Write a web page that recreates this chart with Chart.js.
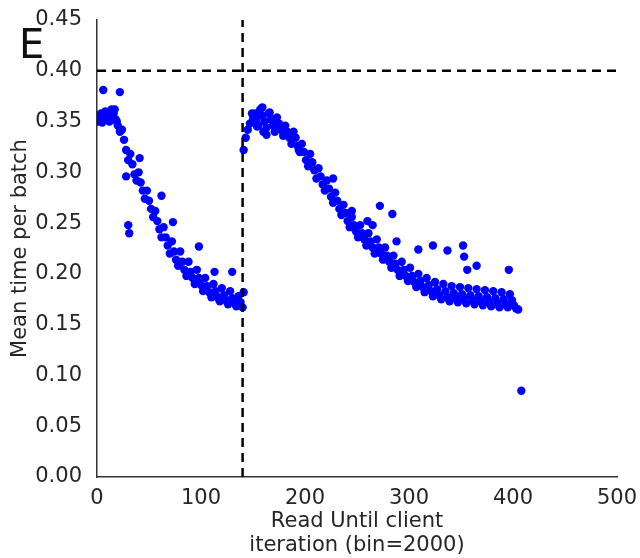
<!DOCTYPE html>
<html>
<head>
<meta charset="utf-8">
<script src="https://cdn.jsdelivr.net/npm/chart.js@4.4.0/dist/chart.umd.min.js"></script>
<style>
  html, body { margin: 0; padding: 0; background: #fff; }
  #wrap { width: 640px; height: 558px; }
</style>
</head>
<body>
<div id="wrap"><canvas id="chart" width="640" height="558"></canvas></div>
<script>
// sampled every 2nd iteration
const iterStep = 2

// first run: iterations 0, 2, ... 140
const firstStart = 0
const firstRun = [
  .356, .352, .358, .354,  .360, .355, .350, .362,
  .358, .352, .346, .340,  .342, .332, .322, .312,
  .318, .308, .298, .292,  .300, .290, .282, .274,
  .282, .272, .264, .256,  .262, .252, .244, .236,
  .246, .236, .228, .220,  .232, .222, .214, .208,
  .222, .212, .204, .198,  .212, .202, .196, .190,
  .204, .196, .189, .183,  .196, .188, .182, .177,
  .190, .183, .177, .173,  .186, .179, .174, .170,
  .183, .176, .171, .168,  .178, .172, .167
]

// second run: iterations 141, 143, ... 405
const secondStart = 141
const secondRun = [
  .322, .334, .342, .348,  .358, .354, .350, .346,
  .362, .356, .350, .344,  .358, .352, .346, .340,
  .354, .348, .342, .336,  .346, .340, .334, .328,
  .340, .334, .326, .320,  .328, .320, .312, .306,
  .318, .310, .302, .294,  .304, .296, .288, .282,
  .292, .284, .276, .270,  .280, .272, .264, .258,
  .268, .260, .252, .246,  .256, .248, .242, .236,
  .248, .240, .234, .228,  .240, .232, .226, .220,
  .234, .226, .220, .214,  .226, .218, .212, .206,
  .218, .210, .204, .198,  .212, .204, .198, .193,
  .206, .198, .192, .187,  .200, .193, .187, .182,
  .196, .189, .183, .178,  .192, .185, .179, .175,
  .190, .183, .177, .173,  .188, .181, .176, .172,
  .187, .180, .175, .171,  .186, .179, .174, .170,
  .185, .178, .173, .169,  .184, .177, .172, .168,
  .183, .176, .171, .167,  .182, .175, .170, .167,
  .180, .174, .169, .166,  .165
]

// odd-iteration and scattered points off the main band
const extraX = [1, 3, 5, 9, 11, 13, 15, 17, 19, 6, 22, 28, 30, 31, 41, 62, 73, 98, 113, 130, 141,
  150, 152, 154, 156, 159, 160, 163, 166, 170, 176, 186, 194, 227, 245, 260, 265, 272, 284,
  288, 309, 323, 337, 352, 353, 356, 365, 396, 408]
const extraY = [.350, .356, .349, .352, .358, .352, .356, .362, .350, .381, .379, .296, .248, .240,
  .314, .277, .251, .227, .202, .202, .182,
  .352, .358, .345, .356, .364, .340, .337, .359, .352, .344, .338, .322,
  .294, .262, .252, .248, .267, .259, .232, .224, .228, .223, .228, .217, .204, .208, .204, .085]

const switchIteration = 140
const targetTime = 0.40
const xTicks = [0, 100, 200, 300, 400, 500]
const yTicks = [0.00, 0.05, 0.10, 0.15, 0.20, 0.25, 0.30, 0.35, 0.40, 0.45]

const points = []
firstRun.forEach((v, i) => points.push({ x: firstStart + i * iterStep, y: v }))
secondRun.forEach((v, i) => points.push({ x: secondStart + i * iterStep, y: v }))
extraX.forEach((x, i) => points.push({ x: x, y: extraY[i] }))

const fontFamily = "'DejaVu Sans', sans-serif"
const textColor = '#262626'

const panelLetter = {
  id: 'panelLetter',
  afterDraw(chart) {
    const ctx = chart.ctx
    ctx.save()
    ctx.fillStyle = '#111'
    ctx.font = "40px " + fontFamily
    ctx.textBaseline = 'alphabetic'
    ctx.fillText('E', 19, 58)
    ctx.restore()
  }
}

new Chart(document.getElementById('chart'), {
  type: 'scatter',
  data: {
    datasets: [
      {
        data: points,
        backgroundColor: '#0000ff',
        borderWidth: 0,
        pointRadius: 4.2,
        pointHoverRadius: 4.2,
        order: 2
      },
      {
        data: [{ x: 0, y: targetTime }, { x: 500, y: targetTime }],
        showLine: true,
        borderColor: '#000',
        borderWidth: 2.5,
        borderDash: [9, 6],
        pointRadius: 0,
        order: 1
      },
      {
        data: [{ x: switchIteration, y: 0 }, { x: switchIteration, y: 0.45 }],
        showLine: true,
        borderColor: '#000',
        borderWidth: 2.5,
        borderDash: [9, 6],
        pointRadius: 0,
        order: 1
      }
    ]
  },
  options: {
    responsive: false,
    animation: false,
    layout: { padding: { top: 20, right: 23, left: 0, bottom: 0 } },
    plugins: {
      legend: { display: false },
      tooltip: { enabled: false }
    },
    scales: {
      x: {
        type: 'linear',
        min: 0,
        max: 500,
        afterBuildTicks: (s) => { s.ticks = xTicks.map(v => ({ value: v })) },
        grid: { display: false },
        border: { display: true, color: '#333', width: 1.5 },
        ticks: { color: textColor, font: { family: fontFamily, size: 21 }, padding: 1, maxRotation: 0 },
        title: {
          display: true,
          text: ['Read Until client', 'iteration (bin=2000)'],
          color: textColor,
          font: { family: fontFamily, size: 21, lineHeight: 1.15 },
          padding: { top: 3, bottom: 0 }
        },
        afterFit: (s) => { s.height = 81 }
      },
      y: {
        type: 'linear',
        min: 0,
        max: 0.45,
        afterBuildTicks: (s) => { s.ticks = yTicks.map(v => ({ value: v })) },
        grid: { display: false },
        border: { display: true, color: '#333', width: 1.5 },
        ticks: {
          color: textColor,
          font: { family: fontFamily, size: 21 },
          padding: 7,
          callback: (v) => v.toFixed(2)
        },
        title: {
          display: true,
          text: 'Mean time per batch',
          color: textColor,
          font: { family: fontFamily, size: 21 },
          padding: { top: 8, bottom: 4 }
        },
        afterFit: (s) => { s.width = 97 }
      }
    }
  },
  plugins: [panelLetter]
});
</script>
</body>
</html>
